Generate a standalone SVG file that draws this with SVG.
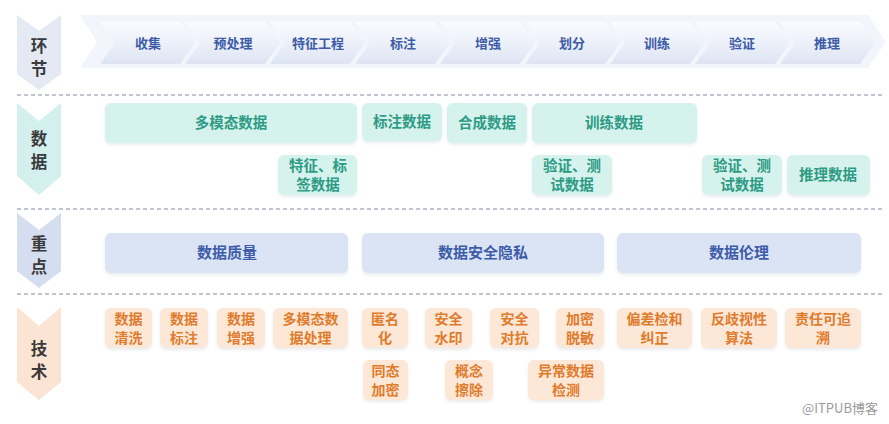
<svg xmlns="http://www.w3.org/2000/svg" width="889" height="424" viewBox="0 0 889 424">
<defs>
  <linearGradient id="chev" x1="0" y1="0" x2="0" y2="1">
    <stop offset="0" stop-color="#fbfcff"/>
    <stop offset="1" stop-color="#dde4f3"/>
  </linearGradient>
  <filter id="sh" x="-10%" y="-10%" width="120%" height="140%">
    <feDropShadow dx="0" dy="2" stdDeviation="1.5" flood-color="#8899aa" flood-opacity="0.18"/>
  </filter>
  <style>
    text { font-family: "Noto Sans CJK SC", "Noto Sans", sans-serif; font-weight: 700; text-anchor: middle; }
    .lbl { font-size: 16.5px; fill: #3a3a3a; }
    .step { font-size: 13px; fill: #3d5ca8; }
    .chev { fill: url(#chev); }
    .data rect { fill: #d5f2ed; }
    .data text { font-size: 14.5px; fill: #2e9b84; }
    .key rect { fill: #dbe4f5; }
    .key text { font-size: 15px; fill: #3d5ca8; }
    .tech rect { fill: #fde8d8; }
    .tech text { font-size: 14px; fill: #e07b2c; }
    .box { filter: url(#sh); }
    .dash { stroke: #aab3bf; stroke-width: 1.5; stroke-dasharray: 4 3; fill: none; }
    .wm { font-size: 13px; font-weight: 400; fill: #9a9a9a; font-family: "Noto Sans CJK SC", "Noto Sans", sans-serif; }
  </style>
</defs>
<rect width="889" height="424" fill="#ffffff"/>

<!-- separators -->
<g id="connectors">
  <line class="dash" x1="17" y1="95" x2="885" y2="95"/>
  <line class="dash" x1="17" y1="209" x2="885" y2="209"/>
  <line class="dash" x1="17" y1="294" x2="885" y2="294"/>
</g>

<!-- left category labels -->
<g id="cat-huanjie">
  <polygon points="17,15 39,31 61,15 61,74 39,90 17,74" fill="#e4e9f4"/>
  <text class="lbl" x="39" y="51.5">环</text>
  <text class="lbl" x="39" y="74.5">节</text>
</g>
<g id="cat-shuju">
  <polygon points="17,103 39,121 61,103 61,176 39,195 17,176" fill="#d3efee"/>
  <text class="lbl" x="39" y="144.5">数</text>
  <text class="lbl" x="39" y="167.5">据</text>
</g>
<g id="cat-zhongdian">
  <polygon points="17,213 39,230 61,213 61,271 39,288 17,271" fill="#d5def0"/>
  <text class="lbl" x="39" y="249.5">重</text>
  <text class="lbl" x="39" y="272.5">点</text>
</g>
<g id="cat-jishu">
  <polygon points="17,307 39,326 61,307 61,382 39,400 17,382" fill="#fbe4d4"/>
  <text class="lbl" x="39" y="354.5">技</text>
  <text class="lbl" x="39" y="377.5">术</text>
</g>

<!-- process band -->
<g id="steps">
  <polygon points="80,15 868,15 886,42 868,68 80,68 97,42" fill="#f2f5fb"/>
  <g id="s1"><polygon class="chev" points="100,22 180,22 195,43 180,64 100,64 115,43"/><text class="step" x="148" y="47.5">收集</text></g>
  <g id="s2"><polygon class="chev" points="185,22 265,22 280,43 265,64 185,64 200,43"/><text class="step" x="233" y="47.5">预处理</text></g>
  <g id="s3"><polygon class="chev" points="270,22 350,22 365,43 350,64 270,64 285,43"/><text class="step" x="318" y="47.5">特征工程</text></g>
  <g id="s4"><polygon class="chev" points="355,22 435,22 450,43 435,64 355,64 370,43"/><text class="step" x="403" y="47.5">标注</text></g>
  <g id="s5"><polygon class="chev" points="440,22 520,22 535,43 520,64 440,64 455,43"/><text class="step" x="488" y="47.5">增强</text></g>
  <g id="s6"><polygon class="chev" points="525,22 605,22 620,43 605,64 525,64 540,43"/><text class="step" x="572" y="47.5">划分</text></g>
  <g id="s7"><polygon class="chev" points="610,22 690,22 705,43 690,64 610,64 625,43"/><text class="step" x="657" y="47.5">训练</text></g>
  <g id="s8"><polygon class="chev" points="695,22 775,22 790,43 775,64 695,64 710,43"/><text class="step" x="742" y="47.5">验证</text></g>
  <g id="s9"><polygon class="chev" points="780,22 860,22 875,43 860,64 780,64 795,43"/><text class="step" x="827" y="47.5">推理</text></g>
</g>

<!-- data row -->
<g class="data">
  <g id="d-multimodal"><rect class="box" x="105" y="103" width="252" height="40" rx="6"/><text x="231" y="128">多模态数据</text></g>
  <g id="d-label"><rect class="box" x="362" y="103" width="80" height="38" rx="6"/><text x="402" y="127">标注数据</text></g>
  <g id="d-synth"><rect class="box" x="447" y="103" width="80" height="40" rx="6"/><text x="487" y="128">合成数据</text></g>
  <g id="d-train"><rect class="box" x="532" y="103" width="165" height="40" rx="6"/><text x="614" y="128">训练数据</text></g>
  <g id="d-feature"><rect class="box" x="278" y="155" width="79" height="40" rx="6"/><text x="318" y="171">特征、标</text><text x="318" y="190">签数据</text></g>
  <g id="d-val1"><rect class="box" x="532" y="155" width="80" height="40" rx="6"/><text x="572" y="171">验证、测</text><text x="572" y="190">试数据</text></g>
  <g id="d-val2"><rect class="box" x="702" y="155" width="80" height="40" rx="6"/><text x="742" y="171">验证、测</text><text x="742" y="190">试数据</text></g>
  <g id="d-infer"><rect class="box" x="787" y="155" width="83" height="40" rx="6"/><text x="828" y="180">推理数据</text></g>
</g>

<!-- key row -->
<g class="key">
  <g id="k-quality"><rect class="box" x="105" y="233" width="243" height="40" rx="6"/><text x="227" y="258">数据质量</text></g>
  <g id="k-security"><rect class="box" x="362" y="233" width="242" height="40" rx="6"/><text x="483" y="258">数据安全隐私</text></g>
  <g id="k-ethics"><rect class="box" x="617" y="233" width="244" height="40" rx="6"/><text x="739" y="258">数据伦理</text></g>
</g>

<!-- tech row -->
<g class="tech">
  <g id="t1"><rect class="box" x="105" y="308" width="47" height="40" rx="6"/><text x="128.5" y="324">数据</text><text x="128.5" y="342.5">清洗</text></g>
  <g id="t2"><rect class="box" x="160" y="308" width="48" height="40" rx="6"/><text x="184" y="324">数据</text><text x="184" y="342.5">标注</text></g>
  <g id="t3"><rect class="box" x="217" y="308" width="48" height="40" rx="6"/><text x="241" y="324">数据</text><text x="241" y="342.5">增强</text></g>
  <g id="t4"><rect class="box" x="273" y="308" width="75" height="40" rx="6"/><text x="310.5" y="324">多模态数</text><text x="310.5" y="342.5">据处理</text></g>
  <g id="t5"><rect class="box" x="362" y="308" width="46" height="40" rx="6"/><text x="385" y="324">匿名</text><text x="385" y="342.5">化</text></g>
  <g id="t6"><rect class="box" x="425" y="308" width="47" height="40" rx="6"/><text x="448.5" y="324">安全</text><text x="448.5" y="342.5">水印</text></g>
  <g id="t7"><rect class="box" x="490" y="308" width="49" height="40" rx="6"/><text x="514.5" y="324">安全</text><text x="514.5" y="342.5">对抗</text></g>
  <g id="t8"><rect class="box" x="556" y="308" width="48" height="40" rx="6"/><text x="580" y="324">加密</text><text x="580" y="342.5">脱敏</text></g>
  <g id="t9"><rect class="box" x="617" y="308" width="75" height="40" rx="6"/><text x="654.5" y="324">偏差检和</text><text x="654.5" y="342.5">纠正</text></g>
  <g id="t10"><rect class="box" x="701" y="308" width="76" height="40" rx="6"/><text x="739" y="324">反歧视性</text><text x="739" y="342.5">算法</text></g>
  <g id="t11"><rect class="box" x="785" y="308" width="76" height="40" rx="6"/><text x="823" y="324">责任可追</text><text x="823" y="342.5">溯</text></g>
  <g id="t12"><rect class="box" x="363" y="360" width="45" height="40" rx="6"/><text x="385.5" y="376">同态</text><text x="385.5" y="394.5">加密</text></g>
  <g id="t13"><rect class="box" x="445" y="360" width="48" height="40" rx="6"/><text x="469" y="376">概念</text><text x="469" y="394.5">擦除</text></g>
  <g id="t14"><rect class="box" x="528" y="360" width="76" height="40" rx="6"/><text x="566" y="376">异常数据</text><text x="566" y="394.5">检测</text></g>
</g>

<text class="wm" x="840" y="413">@ITPUB博客</text>
</svg>
